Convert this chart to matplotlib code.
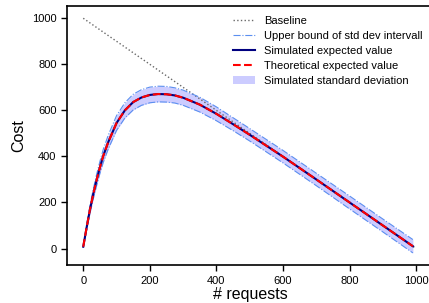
import numpy as np
import matplotlib
matplotlib.use('Agg')
import matplotlib.pyplot as plt

plt.rcParams['font.family'] = ['Liberation Sans', 'DejaVu Sans']

# valeurs
requests = [0, 10, 20, 30, 40, 50, 60, 75, 100, 125, 150, 175, 200, 225, 250, 275,
            300, 350, 400, 450, 500, 600, 700, 800, 900, 990]
sim_mean = [8, 90, 168, 236, 297, 352, 402, 462, 545, 600, 636, 656, 667, 671, 670, 665,
            655, 625, 585, 540, 494, 399, 300, 200, 100, 10]
theo_mean = [8, 90, 168, 236, 297, 352, 402, 462, 545, 600, 636, 656, 667, 671, 670, 665,
             655, 625, 585, 540, 494, 399, 300, 200, 100, 10]
sim_std = [2, 12, 17, 21, 24, 26, 28, 30, 32, 33, 34, 34, 34, 34, 34, 33,
           33, 32, 30, 28, 27, 27, 27, 28, 28, 29]
baseline_x = [0, 1000]
baseline_y = [1000, 0]

x = np.array(requests)
m = np.array(sim_mean)
s = np.array(sim_std)

fig = plt.figure(figsize=(4.29, 3.03), dpi=100)
ax = fig.add_axes([0.156, 0.125, 0.853, 0.855])

ax.fill_between(x, m - s, m + s, color='blue', alpha=0.2, lw=0,
                label='Simulated standard deviation', zorder=1)
ax.plot(baseline_x, baseline_y, ':', color='dimgrey', lw=1, label='Baseline', zorder=2)
ax.plot(x, m + s, '-.', color='#5b8ff0', lw=0.8,
        label='Upper bound of std dev intervall', zorder=3)
ax.plot(x, m - s, '-.', color='#5b8ff0', lw=0.8, zorder=3)
ax.plot(x, m, '-', color='navy', lw=1.5, label='Simulated expected value', zorder=4)
ax.plot(x, theo_mean, '--', color='red', lw=1.5, label='Theoretical expected value', zorder=5)

ax.set_xlim(-49, 1050)
ax.set_ylim(-72, 1053)
ax.set_xticks([0, 200, 400, 600, 800, 1000])
ax.set_yticks([0, 200, 400, 600, 800, 1000])
ax.tick_params(labelsize=8, length=4, width=1)
for sp in ax.spines.values():
    sp.set_linewidth(1.2)
ax.spines['right'].set_visible(False)

ax.set_xlabel('# requests', fontsize=11.5, labelpad=1)
ax.set_ylabel('Cost', fontsize=11.5)

h, l = ax.get_legend_handles_labels()
order = [1, 2, 3, 4, 0]
ax.legend([h[i] for i in order], [l[i] for i in order], loc='upper right',
          frameon=False, fontsize=8, labelspacing=0.45)

fig.savefig('out.png', dpi=100)
